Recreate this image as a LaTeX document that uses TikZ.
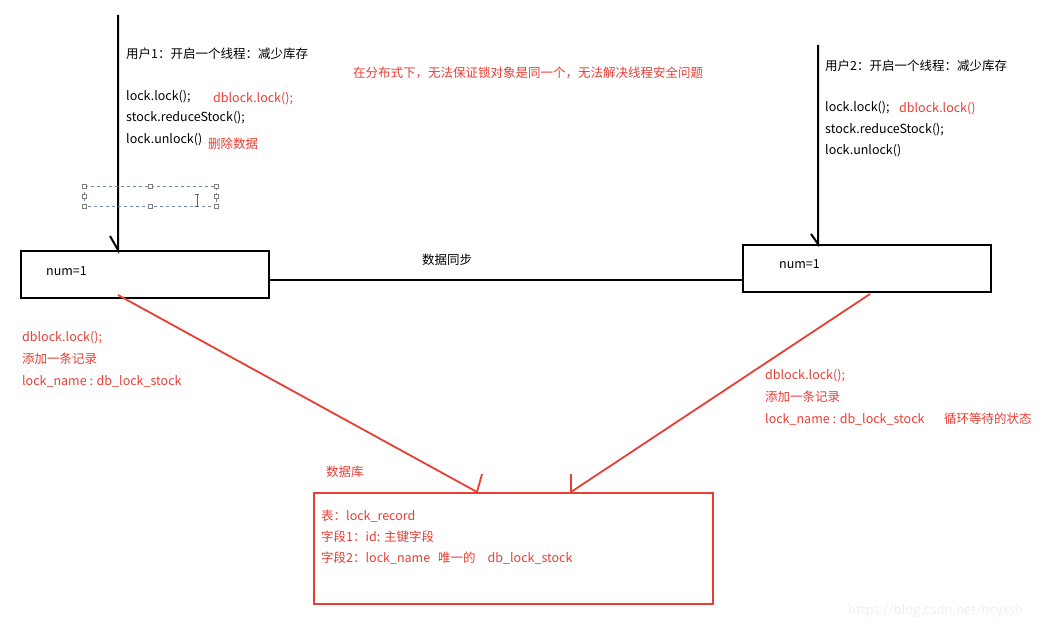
\documentclass[tikz,border=0pt]{standalone}
\usepackage{fontspec}
\setmainfont{Noto Sans CJK SC}
\definecolor{myred}{RGB}{232,62,52}
\definecolor{selblue}{RGB}{110,140,170}
\begin{document}
\begin{tikzpicture}[x=1pt,y=-1pt,
  txt/.style={anchor=west, inner sep=0pt, font=\fontsize{12.5}{15}\selectfont, text=black},
  rtxt/.style={txt, text=myred},
  blk/.style={draw=black, line width=2pt},
  rln/.style={draw=myred, line width=1.8pt},
  boxb/.style={draw=black, line width=1.8pt, minimum width=248pt, minimum height=47pt, inner sep=0pt, anchor=north west},
  handle/.style={draw=gray, fill=white, line width=0.5pt, minimum size=4pt, inner sep=0pt},
]
\useasboundingbox (0,0) rectangle (1052,631);
\fill[white] (0,0) rectangle (1052,631);

% boxes
\node[boxb] (lbox) at (20,250) {};
\node[boxb] (rbox) at (742,244) {};
\node[draw=myred, line width=1.8pt, minimum width=399pt, minimum height=111pt, inner sep=0pt, anchor=north west] (db) at (313,492) {};

\node[txt] (lnum) at (46,271) {num=1};
\node[txt] (rnum) at (779,264) {num=1};

% sync line
\coordinate (lsync) at (268,280);
\draw[blk] (lsync) -- (lsync -| rbox.west);
\node[txt] (sync) at (422,260) {数据同步};

% vertical arrows
\coordinate (ltop) at (118,15);
\coordinate (lhd) at (110,236);
\draw[blk] (ltop) -- (ltop |- lbox.north) -- (lhd);
\coordinate (rtop) at (818,45);
\coordinate (rhd) at (811,234);
\draw[blk] (rtop) -- (rtop |- rbox.north) -- (rhd);

% red lines
\coordinate (lstart) at (118,295);
\coordinate (ltip) at (477,492);
\coordinate (lhd2) at (482,474);
\draw[rln] (lstart) -- (ltip) -- (lhd2);
\coordinate (rstart) at (870,294);
\coordinate (rtip) at (571,492);
\coordinate (rhd2) at (571,474);
\draw[rln] (rstart) -- (rtip) -- (rhd2);

% top red note
\node[rtxt] (note) at (353,73) {在分布式下，无法保证锁对象是同一个，无法解决线程安全问题};

% left code
\node[txt] (u1) at (126,54) {用户1：开启一个线程：减少库存};
\node[txt] (l1) at (126,97) {lock.lock();};
\node[rtxt] (l1r) at (213,99) {dblock.lock();};
\node[txt] (l2) at (126,118) {stock.reduceStock();};
\node[txt] (l3) at (126,140) {lock.unlock()};
\node[rtxt] (l3r) at (208,144) {删除数据};

% right code
\node[txt] (u2) at (825,66) {用户2：开启一个线程：减少库存};
\node[txt] (r1) at (825,108) {lock.lock();};
\node[rtxt] (r1r) at (899,109) {dblock.lock()};
\node[txt] (r2) at (825,130) {stock.reduceStock();};
\node[txt] (r3) at (825,151) {lock.unlock()};

% selection box artifact
\draw[selblue, dashed, line width=0.6pt] (84,186) rectangle (216,206);
\foreach \p [count=\i] in {(84,186),(150,186),(216,186),(84,196),(216,196),(84,206),(150,206),(216,206)}
  \node[handle] (h\i) at \p {};
\draw[gray!80!black, line width=0.8pt] (197,194) -- (197,206) (195,194) -- (199,194) (195,206) -- (199,206);

% left red notes
\node[rtxt] (ln1) at (22,338) {dblock.lock();};
\node[rtxt] (ln2) at (22,359) {添加一条记录};
\node[rtxt] (ln3) at (22,381) {lock\_name : db\_lock\_stock};

% right red notes
\node[rtxt] (rn1) at (765,376) {dblock.lock();};
\node[rtxt] (rn2) at (765,397) {添加一条记录};
\node[rtxt] (rn3) at (765,419) {lock\_name : db\_lock\_stock};
\node[rtxt] (rn4) at (944,419) {循环等待的状态};

% database
\node[rtxt] (dbl) at (326,472) {数据库};
\node[rtxt] (d1) at (321,516) {表：lock\_record};
\node[rtxt] (d2) at (321,537) {字段1：id: 主键字段};
\node[rtxt] (d3) at (321,558) {字段2：lock\_name\hspace{8pt}唯一的\hspace{12pt}db\_lock\_stock};

% watermark
\node[txt, text=gray!12, font=\fontsize{13}{15}\selectfont] (wm) at (848,611) {https://blog.csdn.net/hcyxsh};
\end{tikzpicture}
\end{document}
